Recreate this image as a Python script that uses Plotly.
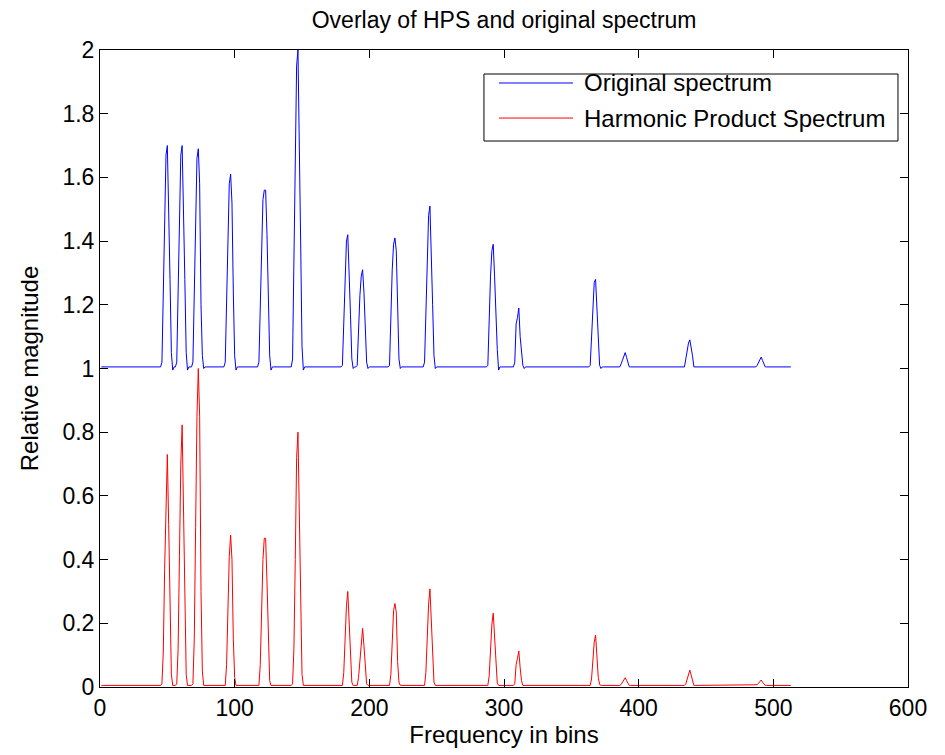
import plotly.graph_objects as go

# ---------------- data ----------------
n_bins = 513
blue_base = 1.005
red_base = 0.005

series_names = ["Original spectrum", "Harmonic Product Spectrum"]
series_colors = ["#0000FF", "#FF0000"]

# Original spectrum: peak start bin and sample values from that bin on
blue_starts = [46, 57, 69, 93, 118, 143, 180, 191, 215, 241, 288, 307, 364, 386, 434, 487]
blue_samples = [
    [1.02, 1.28, 1.53, 1.67, 1.70, 1.53, 1.28, 1.05, 0.995],
    [1.02, 1.28, 1.53, 1.67, 1.70, 1.53, 1.28, 1.05, 0.995],
    [1.02, 1.28, 1.52, 1.66, 1.69, 1.58, 1.20, 1.04, 1.00],
    [1.02, 1.24, 1.45, 1.58, 1.61, 1.52, 1.24, 1.04, 0.995],
    [1.02, 1.22, 1.42, 1.53, 1.56, 1.56, 1.42, 1.22, 1.04, 0.995],
    [1.03, 1.40, 1.75, 1.95, 2.00, 1.75, 1.40, 1.07, 0.995],
    [1.01, 1.17, 1.32, 1.40, 1.42, 1.32, 1.17, 1.03, 1.00],
    [1.01, 1.13, 1.23, 1.29, 1.31, 1.24, 1.13, 1.02, 1.00],
    [1.01, 1.17, 1.31, 1.39, 1.41, 1.37, 1.17, 1.03, 1.00],
    [1.02, 1.20, 1.38, 1.48, 1.51, 1.38, 1.20, 1.04, 1.00],
    [1.01, 1.16, 1.29, 1.37, 1.39, 1.29, 1.16, 1.06, 0.995],
    [1.005, 1.02, 1.14, 1.16, 1.19, 1.10, 1.05, 1.01, 1.00],
    [1.01, 1.11, 1.21, 1.27, 1.28, 1.18, 1.06, 1.01, 1.00],
    [1.005, 1.015, 1.025, 1.04, 1.05, 1.035, 1.02, 1.005, 1.005],
    [1.005, 1.03, 1.06, 1.08, 1.09, 1.07, 1.04, 1.005, 1.005],
    [1.005, 1.01, 1.02, 1.03, 1.036, 1.025, 1.015, 1.005, 1.005],
]

# Harmonic Product Spectrum
red_starts = blue_starts
red_samples = [
    [0.01, 0.11, 0.37, 0.62, 0.73, 0.51, 0.22, 0.04, 0.005],
    [0.01, 0.12, 0.41, 0.70, 0.823, 0.58, 0.25, 0.04, 0.005],
    [0.01, 0.15, 0.50, 0.85, 1.00, 0.85, 0.30, 0.05, 0.005],
    [0.005, 0.07, 0.24, 0.41, 0.477, 0.40, 0.15, 0.03, 0.005],
    [0.005, 0.07, 0.23, 0.40, 0.467, 0.467, 0.33, 0.14, 0.02, 0.005],
    [0.01, 0.12, 0.40, 0.72, 0.80, 0.56, 0.24, 0.04, 0.005],
    [0.005, 0.045, 0.15, 0.255, 0.30, 0.21, 0.09, 0.015, 0.005],
    [0.005, 0.03, 0.09, 0.156, 0.184, 0.13, 0.055, 0.01, 0.005],
    [0.005, 0.04, 0.13, 0.24, 0.262, 0.235, 0.08, 0.015, 0.005],
    [0.005, 0.046, 0.154, 0.26, 0.308, 0.216, 0.092, 0.015, 0.005],
    [0.005, 0.035, 0.116, 0.197, 0.232, 0.162, 0.07, 0.012, 0.005],
    [0.005, 0.01, 0.07, 0.09, 0.113, 0.06, 0.02, 0.005, 0.005],
    [0.005, 0.025, 0.08, 0.14, 0.163, 0.09, 0.03, 0.008, 0.005],
    [0.005, 0.008, 0.015, 0.024, 0.029, 0.02, 0.01, 0.005, 0.005],
    [0.005, 0.01, 0.027, 0.045, 0.053, 0.037, 0.016, 0.005, 0.005],
    [0.005, 0.007, 0.012, 0.018, 0.022, 0.015, 0.008, 0.005, 0.005],
]

x_ticks = [0, 100, 200, 300, 400, 500, 600]
y_ticks = [0, 0.2, 0.4, 0.6, 0.8, 1, 1.2, 1.4, 1.6, 1.8, 2]
y_tick_labels = ["0", "0.2", "0.4", "0.6", "0.8", "1", "1.2", "1.4", "1.6", "1.8", "2"]


def build(base, starts, samples):
    ys = [base] * n_bins
    for s, vals in zip(starts, samples):
        for i, v in enumerate(vals):
            ys[s - 1 + i] = v
    return ys


bins = list(range(1, n_bins + 1))
blue_y = build(blue_base, blue_starts, blue_samples)
red_y = build(red_base, red_starts, red_samples)

FONT = "Liberation Sans, Arial, Helvetica, sans-serif"

fig = go.Figure()
for name, color, ys in zip(series_names, series_colors, [blue_y, red_y]):
    fig.add_trace(go.Scatter(x=bins, y=ys, mode="lines", name=name,
                             line=dict(color=color, width=1), showlegend=False))

axis_common = dict(showline=True, linecolor="black", linewidth=1, mirror="ticks",
                   ticks="inside", ticklen=8, tickcolor="black", showgrid=False,
                   zeroline=False, tickfont=dict(family=FONT, size=23, color="black"))

fig.update_xaxes(range=[0, 600], tickvals=x_ticks, **axis_common,
                 title=dict(text="Frequency in bins", font=dict(family=FONT, size=24, color="black"),
                            standoff=1))
fig.update_yaxes(range=[0, 2], tickvals=y_ticks, ticktext=y_tick_labels, **axis_common,
                 title=dict(text="Relative magnitude", font=dict(family=FONT, size=24, color="black"),
                            standoff=17))

# boxed legend in the upper right (MATLAB style, long line samples)
leg_x0, leg_x1, leg_y0, leg_y1 = 0.4752, 0.9876, 0.8571, 0.9623
sample_x0, sample_x1, text_x = 0.4938, 0.5854, 0.5965
row_y = [0.9482, 0.8932]
shapes = [dict(type="rect", xref="paper", yref="paper", x0=leg_x0, x1=leg_x1,
               y0=leg_y0, y1=leg_y1, line=dict(color="black", width=1),
               fillcolor="white", layer="above")]
annotations = []
for name, color, yy in zip(series_names, series_colors, row_y):
    shapes.append(dict(type="line", xref="paper", yref="paper", x0=sample_x0, x1=sample_x1,
                       y0=yy, y1=yy, line=dict(color=color, width=1), layer="above"))
    annotations.append(dict(xref="paper", yref="paper", x=text_x, y=yy, text=name,
                            showarrow=False, xanchor="left", yanchor="middle",
                            font=dict(family=FONT, size=24, color="black")))

# the page body is offset by 8 px; margins compensate so the axes land in place
fig.update_layout(
    width=945, height=755,
    margin=dict(l=92, r=45, t=42, b=76),
    paper_bgcolor="white", plot_bgcolor="white",
    title=dict(text="Overlay of HPS and original spectrum", x=0.525, xanchor="center",
               y=1, yanchor="top", pad=dict(t=4, b=0, l=0, r=0),
               font=dict(family=FONT, size=23, color="black")),
    shapes=shapes, annotations=annotations,
    showlegend=False,
)

fig.write_html("out.html")
